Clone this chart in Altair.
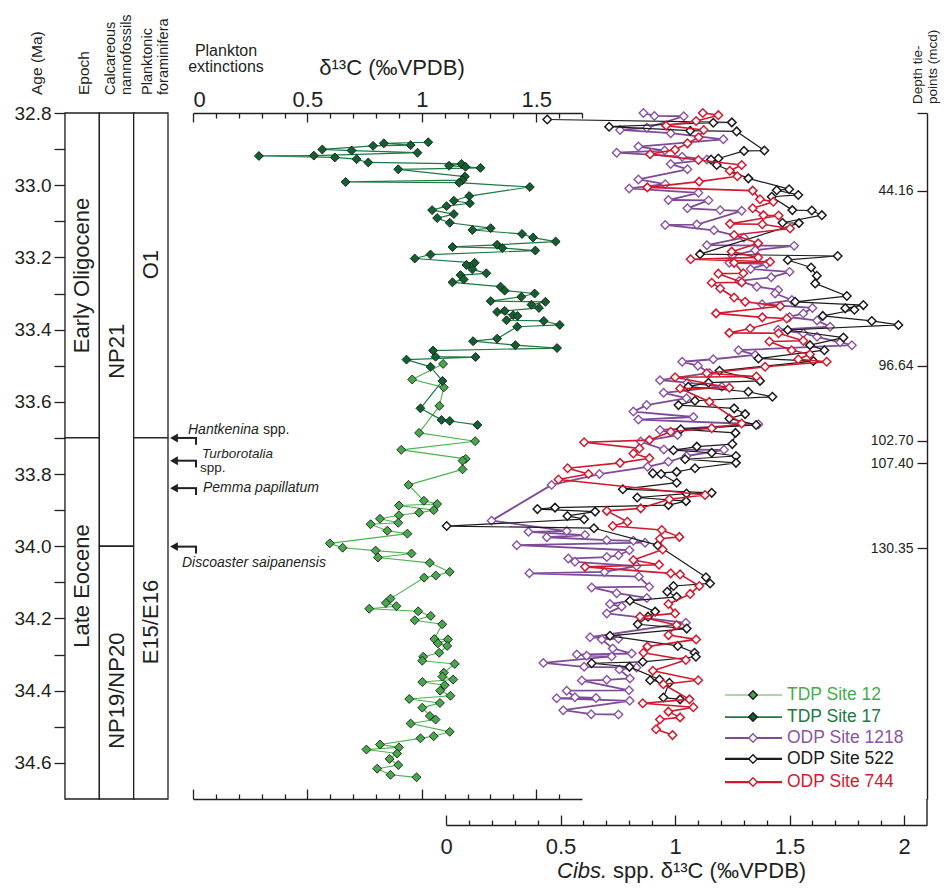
import altair as alt
import pandas as pd

FONT = "Liberation Sans"
INK = "#231f20"

# ---------------- data (age Ma, d13C permil) ----------------
tdp17 = [(32.881, 1.028), (32.884, 0.834), (32.889, 0.951), (32.891, 0.787), (32.901, 0.565),
         (32.904, 0.693), (32.910, 0.981), (32.918, 0.528), (32.919, 0.288), (32.923, 0.620),
         (32.928, 0.715), (32.937, 0.766), (32.941, 1.173), (32.946, 1.119), (32.949, 1.191),
         (32.952, 1.256), (32.956, 0.897), (32.976, 1.188), (32.986, 1.178), (32.991, 0.667),
         (32.993, 1.163), (33.005, 1.472), (33.030, 1.207), (33.043, 1.140), (33.050, 1.210),
         (33.058, 1.108), (33.069, 1.045), (33.080, 1.140), (33.091, 1.067), (33.104, 1.122),
         (33.119, 1.301), (33.124, 1.221), (33.135, 1.438), (33.145, 1.486), (33.156, 1.585),
         (33.165, 1.329), (33.171, 1.134), (33.174, 1.352), (33.181, 1.496), (33.192, 1.038),
         (33.203, 0.969), (33.215, 1.231), (33.221, 1.195), (33.233, 1.221), (33.244, 1.282),
         (33.249, 1.169), (33.261, 1.183), (33.269, 1.134), (33.281, 1.344), (33.292, 1.362),
         (33.300, 1.493), (33.309, 1.435), (33.321, 1.301), (33.323, 1.540), (33.331, 1.479),
         (33.340, 1.512), (33.348, 1.362), (33.351, 1.329), (33.360, 1.399), (33.362, 1.418),
         (33.374, 1.370), (33.376, 1.533), (33.387, 1.603), (33.392, 1.417), (33.425, 1.329),
         (33.432, 1.224), (33.443, 1.409), (33.451, 1.591), (33.458, 1.049), (33.475, 1.060),
         (33.476, 1.235), (33.483, 0.933), (33.503, 1.038), (33.542, 1.090), (33.618, 0.994),
         (33.650, 1.086), (33.653, 1.122), (33.664, 1.243)]

tdp12 = [(33.495, 1.093), (33.538, 0.958), (33.560, 1.096), (33.611, 1.077), (33.686, 0.988),
         (33.709, 1.233), (33.733, 0.910), (33.758, 1.192), (33.763, 1.178), (33.787, 1.178),
         (33.830, 0.942), (33.874, 1.009), (33.883, 1.067), (33.887, 0.900), (33.900, 1.052),
         (33.907, 0.988), (33.914, 0.900), (33.924, 0.817), (33.935, 0.897), (33.939, 0.776),
         (33.957, 0.849), (33.965, 0.937), (33.992, 0.598), (34.004, 0.654), (34.012, 0.798),
         (34.020, 0.955), (34.031, 0.808), (34.046, 1.035), (34.071, 1.122), (34.081, 1.061),
         (34.087, 1.010), (34.145, 0.863), (34.157, 0.843), (34.166, 0.889), (34.173, 0.770),
         (34.180, 0.984), (34.193, 1.039), (34.205, 0.969), (34.216, 1.089), (34.257, 1.055),
         (34.258, 1.114), (34.269, 1.070), (34.276, 1.111), (34.295, 1.076), (34.306, 1.006),
         (34.317, 1.002), (34.326, 1.144), (34.350, 1.096), (34.361, 1.090), (34.369, 1.137),
         (34.376, 1.002), (34.385, 1.100), (34.400, 1.080), (34.414, 1.125), (34.423, 0.945),
         (34.434, 1.079), (34.447, 1.002), (34.470, 1.035), (34.480, 1.060), (34.491, 0.951),
         (34.514, 1.122), (34.526, 1.052), (34.532, 0.994), (34.549, 0.817), (34.557, 0.900),
         (34.563, 0.758), (34.574, 0.892), (34.589, 0.859), (34.606, 0.897), (34.616, 0.805),
         (34.633, 0.863), (34.640, 0.977)]

odp1218 = [(32.800, 0.862), (32.808, 0.910), (32.809, 1.038), (32.841, 0.877), (32.847, 0.760),
           (32.856, 0.981), (32.873, 1.211), (32.893, 0.840), (32.904, 0.955), (32.910, 0.745),
           (32.921, 1.031), (32.929, 1.139), (32.941, 0.981), (32.956, 1.054), (32.984, 0.840),
           (32.997, 0.957), (33.009, 0.800), (33.021, 1.102), (33.041, 0.971), (33.042, 1.146),
           (33.064, 1.054), (33.069, 1.197), (33.071, 1.291), (33.109, 1.095), (33.110, 0.957),
           (33.125, 1.170), (33.145, 1.300), (33.166, 1.139), (33.168, 1.520), (33.180, 1.350),
           (33.195, 1.250), (33.215, 1.237), (33.218, 1.400), (33.232, 1.330), (33.240, 1.500),
           (33.255, 1.420), (33.265, 1.280), (33.281, 1.357), (33.290, 1.450), (33.300, 1.437),
           (33.318, 1.510), (33.330, 1.380), (33.340, 1.600), (33.355, 1.560), (33.365, 1.500),
           (33.375, 1.620), (33.392, 1.677), (33.400, 1.450), (33.410, 1.560), (33.420, 1.620),
           (33.435, 1.721), (33.443, 1.772), (33.457, 1.277), (33.470, 1.350), (33.482, 1.167),
           (33.489, 1.031), (33.500, 1.100), (33.520, 1.150), (33.540, 0.934), (33.547, 1.054),
           (33.558, 1.204), (33.575, 0.950), (33.590, 1.050), (33.609, 0.876), (33.627, 0.818),
           (33.642, 1.080), (33.649, 0.840), (33.662, 1.364), (33.678, 0.934), (33.692, 1.011),
           (33.710, 0.850), (33.732, 0.951), (33.733, 1.214), (33.750, 1.050), (33.766, 0.971),
           (33.780, 0.880), (33.800, 0.670), (33.830, 0.461), (33.929, 0.199), (33.958, 0.527),
           (33.960, 0.360), (33.969, 0.607), (33.975, 0.440), (33.983, 0.702), (33.985, 0.818),
           (33.990, 0.869), (33.997, 0.309), (34.011, 0.801), (34.025, 0.753), (34.030, 0.702),
           (34.034, 0.534), (34.043, 0.563), (34.055, 0.832), (34.071, 0.692), (34.075, 0.364),
           (34.084, 0.842), (34.112, 0.887), (34.114, 0.636), (34.130, 0.745), (34.143, 0.877),
           (34.160, 0.716), (34.167, 0.767), (34.186, 0.702), (34.212, 1.047), (34.252, 0.629),
           (34.256, 0.753), (34.258, 0.680), (34.283, 0.728), (34.297, 0.811), (34.300, 0.571),
           (34.303, 0.614), (34.305, 0.723), (34.323, 0.425), (34.334, 0.603), (34.336, 0.832),
           (34.341, 0.757), (34.366, 0.803), (34.370, 0.702), (34.372, 0.593), (34.399, 0.799),
           (34.400, 0.527), (34.418, 0.563), (34.420, 0.655), (34.421, 0.483), (34.428, 0.802),
           (34.454, 0.512), (34.465, 0.634), (34.466, 0.753)]

odp522 = [(32.818, 0.442), (32.826, 1.248), (32.827, 1.167), (32.838, 0.712), (32.849, 1.066),
          (32.851, 1.269), (32.904, 1.390), (32.905, 1.301), (32.926, 1.189), (32.929, 1.157),
          (32.944, 1.182), (32.981, 1.320), (33.011, 1.498), (33.014, 1.444), (33.027, 1.538),
          (33.032, 1.422), (33.069, 1.512), (33.070, 1.597), (33.083, 1.641), (33.104, 1.469),
          (33.105, 1.541), (33.191, 1.109), (33.196, 1.710), (33.207, 1.492), (33.228, 1.594),
          (33.251, 1.619), (33.272, 1.612), (33.307, 1.750), (33.323, 1.524), (33.332, 1.822),
          (33.341, 1.743), (33.345, 1.783), (33.362, 1.645), (33.376, 1.859), (33.387, 1.975),
          (33.401, 1.492), (33.422, 1.735), (33.443, 1.589), (33.457, 1.652), (33.480, 1.364),
          (33.487, 1.604), (33.514, 1.194), (33.542, 1.371), (33.547, 1.146), (33.558, 1.058),
          (33.572, 1.320), (33.586, 1.425), (33.597, 1.087), (33.609, 1.015), (33.618, 1.258),
          (33.634, 1.306), (33.646, 1.237), (33.664, 1.354), (33.676, 1.025), (33.686, 1.264),
          (33.717, 1.250), (33.724, 1.095), (33.734, 0.993), (33.741, 1.160), (33.750, 1.266),
          (33.759, 1.044), (33.769, 1.266), (33.784, 1.087), (33.794, 1.007), (33.798, 0.903),
          (33.800, 0.939), (33.824, 1.007), (33.842, 0.772), (33.852, 1.160), (33.854, 1.050),
          (33.865, 0.835), (33.875, 1.048), (33.886, 0.971), (33.893, 0.476), (33.897, 0.399),
          (33.904, 0.651), (33.916, 0.530), (33.925, 0.603), (33.944, 0.003), (33.950, 0.646),
          (33.997, 0.924), (34.086, 1.135), (34.103, 1.153), (34.110, 0.993), (34.126, 0.966),
          (34.140, 1.007), (34.151, 0.803), (34.181, 0.913), (34.195, 0.882), (34.216, 0.837),
          (34.228, 1.051), (34.248, 0.716), (34.276, 1.012), (34.295, 1.085), (34.306, 1.091),
          (34.320, 0.859), (34.324, 0.636), (34.334, 0.801), (34.369, 0.932), (34.371, 0.891),
          (34.378, 0.975), (34.419, 0.949), (34.424, 1.022)]

odp744 = [(32.800, 1.121), (32.806, 1.189), (32.822, 1.092), (32.835, 0.961), (32.847, 1.125),
          (32.867, 1.103), (32.884, 1.054), (32.902, 1.000), (32.914, 0.891), (32.930, 1.102),
          (32.944, 1.291), (32.960, 1.239), (32.975, 1.272), (32.990, 1.105), (33.006, 0.879),
          (33.015, 1.339), (33.039, 1.371), (33.046, 1.429), (33.064, 1.339), (33.083, 1.386),
          (33.084, 1.452), (33.107, 1.240), (33.108, 1.381), (33.120, 1.502), (33.138, 1.258),
          (33.161, 1.363), (33.184, 1.247), (33.200, 1.363), (33.205, 1.068), (33.212, 1.415),
          (33.215, 1.258), (33.244, 1.298), (33.245, 1.189), (33.269, 1.291), (33.270, 1.160),
          (33.286, 1.197), (33.311, 1.258), (33.323, 1.306), (33.335, 1.459), (33.355, 1.179),
          (33.366, 1.381), (33.369, 1.488), (33.397, 1.328), (33.409, 1.237), (33.410, 1.452),
          (33.431, 1.560), (33.433, 1.412), (33.457, 1.509), (33.468, 1.589), (33.482, 1.538),
          (33.489, 1.662), (33.503, 1.393), (33.521, 1.138), (33.530, 1.355), (33.532, 1.000),
          (33.561, 1.237), (33.563, 1.022), (33.600, 1.150), (33.660, 1.291), (33.673, 1.160),
          (33.683, 0.981), (33.706, 0.888), (33.712, 0.603), (33.729, 0.844), (33.743, 0.818),
          (33.756, 0.888), (33.769, 0.760), (33.784, 0.531), (33.800, 0.622), (33.815, 0.491),
          (33.858, 1.131), (33.870, 0.975), (33.895, 0.850), (33.902, 0.702), (33.932, 0.792),
          (33.944, 0.728), (33.955, 0.942), (33.974, 1.019), (33.979, 0.934), (34.009, 0.946),
          (34.038, 0.818), (34.051, 0.930), (34.057, 0.607), (34.075, 0.981), (34.078, 1.022),
          (34.110, 1.106), (34.132, 1.066), (34.160, 0.971), (34.186, 1.000), (34.195, 0.847),
          (34.218, 1.007), (34.246, 0.971), (34.258, 1.092), (34.278, 0.879), (34.295, 0.862),
          (34.315, 1.047), (34.345, 0.903), (34.371, 1.101), (34.382, 0.949), (34.424, 1.063),
          (34.435, 0.859), (34.446, 1.080), (34.458, 0.971), (34.474, 1.022), (34.480, 0.934),
          (34.507, 0.917), (34.523, 0.989)]

# stratigraphic columns (0 epoch, 1 nannofossils, 2 forams)
strat_col = [0, 0, 1, 1, 2, 2]
strat_top = [32.8, 33.7, 32.8, 34.0, 32.8, 33.7]
strat_bot = [33.7, 34.7, 34.0, 34.7, 33.7, 34.7]
strat_label = ["Early Oligocene", "Late Eocene", "NP21", "NP19/NP20", "O1", "E15/E16"]
strat_label_age = [33.25, 34.11, 33.46, 34.40, 33.22, 34.21]

# plankton extinction datums
ext_age = [33.700, 33.763, 33.839, 34.001]

# depth tie-points
tie_age = [33.015, 33.500, 33.708, 33.770, 34.005]
tie_label = ["44.16", "96.64", "102.70", "107.40", "130.35"]

# legend
leg_name = ["TDP Site 12", "TDP Site 17", "ODP Site 1218", "ODP Site 522", "ODP Site 744"]
leg_line = ["#4cb350", "#1c7a43", "#7d4b97", "#1a1a1a", "#d2192f"]
leg_fill = ["#47a84b", "#11602f", "#ffffff", "#ffffff", "#ffffff"]
leg_pstroke = ["#1a1a1a", "#1a1a1a", "#8a52a6", "#1a1a1a", "#d2192f"]
leg_text = ["#45ad4b", "#1b7a44", "#8a55a1", "#1a1a1a", "#d2192f"]
leg_lw = [1.2, 1.8, 2.2, 2.2, 2.2]
leg_age = [34.412, 34.473, 34.531, 34.589, 34.653]

# ---------------- scales ----------------
W, H = 863, 686
ysc = alt.Scale(domain=[32.8, 34.7], reverse=True, nice=False, zero=False)
plank_sc = alt.Scale(domain=[0, 1.7], range=[128, 517], nice=False, zero=False)
benth_sc = alt.Scale(domain=[0, 2.1], range=[381, 862], nice=False, zero=False)
strat_sc = alt.Scale(domain=[0, 3], range=[0, 103], nice=False, zero=False)

one = pd.DataFrame({"k": [0]})
layers = []

# ---------------- stratigraphic columns ----------------
strat_df = pd.DataFrame({
    "c0": strat_col, "c1": [c + 1 for c in strat_col], "cm": [c + 0.5 for c in strat_col],
    "top": strat_top, "bot": strat_bot, "label": strat_label, "lage": strat_label_age})
layers.append(alt.Chart(strat_df).mark_rect(fill="white", stroke=INK, strokeWidth=1.3).encode(
    x=alt.X("c0:Q", scale=strat_sc, axis=None), x2="c1:Q",
    y=alt.Y("top:Q", scale=ysc, axis=None), y2="bot:Q"))
layers.append(alt.Chart(strat_df).mark_text(angle=270, fontSize=22, font=FONT, color=INK,
                                            align="center", baseline="middle").encode(
    x=alt.X("cm:Q", scale=strat_sc, axis=None),
    y=alt.Y("lage:Q", scale=ysc, axis=None), text="label:N"))


def txt(text, x, y, size, angle=0, align="center", baseline="middle", italic=False, lh=None, color=INK):
    kw = dict(text=text, fontSize=size, angle=angle, align=align, baseline=baseline,
              color=color, font=FONT)
    if italic:
        kw["fontStyle"] = "italic"
    if lh:
        kw["lineHeight"] = lh
    return alt.Chart(one).mark_text(**kw).encode(x=alt.value(x), y=alt.value(y))


# headers
layers += [
    txt("Age (Ma)", -28, -18, 15.5, angle=270, align="left"),
    txt("Epoch", 19, -18, 15.5, angle=270, align="left"),
    txt(["Calcareous", "nannofossils"], 46, -18, 14.5, angle=270, align="left", lh=16),
    txt(["Planktonic", "foraminifera"], 83, -18, 14.5, angle=270, align="left", lh=16),
    txt(["Plankton", "extinctions"], 161, -62, 16, lh=16),
    txt("δ¹³C (‰VPDB)", 327, -45, 22),
    txt(["Depth tie-", "points (mcd)"], 853, -9, 13.5, angle=270, align="left", lh=15),
    txt("Cibs.", 492, 758, 22, align="left", italic=True),
    txt("spp. δ¹³C (‰VPDB)", 548, 758, 22, align="left"),
]

# ---------------- extinction arrows ----------------
ext_df = pd.DataFrame({"age": ext_age})
ya = alt.Y("age:Q", scale=ysc, axis=None)
layers.append(alt.Chart(ext_df).mark_rule(color=INK, strokeWidth=2).encode(
    x=alt.value(108), x2=alt.value(132), y=ya))
layers.append(alt.Chart(ext_df).transform_calculate(hook="datum.age + 0.019").mark_rule(
    color=INK, strokeWidth=2).encode(x=alt.value(131), y=ya, y2="hook:Q"))
layers.append(alt.Chart(ext_df).mark_point(shape="triangle-left", filled=True, size=80,
                                           color=INK, opacity=1).encode(x=alt.value(109), y=ya))


def ext_text(text, age, x, dy, italic=True, size=14):
    d = pd.DataFrame({"age": [age]})
    kw = dict(text=text, fontSize=size, align="left", baseline="middle", color=INK, font=FONT, dy=dy)
    if italic:
        kw["fontStyle"] = "italic"
    return alt.Chart(d).mark_text(**kw).encode(x=alt.value(x), y=alt.Y("age:Q", scale=ysc, axis=None))


layers += [
    ext_text("Hantkenina", ext_age[0], 123, -8),
    ext_text("spp.", ext_age[0], 198, -8, italic=False),
    ext_text("Turborotalia", ext_age[1], 137, -7, size=13.5),
    ext_text("spp.", ext_age[1], 135, 7, italic=False, size=13.5),
    ext_text("Pemma papillatum", ext_age[2], 138, 0),
    ext_text("Discoaster saipanensis", ext_age[3], 117, 16),
]


# ---------------- data series ----------------
def series(pairs, xsc, line_color, lw, fill, pstroke, psw, size):
    df = pd.DataFrame(pairs, columns=["age", "val"])
    x = alt.X("val:Q", scale=xsc, axis=None)
    y = alt.Y("age:Q", scale=ysc, axis=None)
    line = alt.Chart(df).mark_line(color=line_color, strokeWidth=lw, strokeJoin="round").encode(
        x=x, y=y, order=alt.Order("age:Q"))
    pts = alt.Chart(df).mark_point(shape="diamond", filled=True, fill=fill, stroke=pstroke,
                                   strokeWidth=psw, size=size, opacity=1).encode(x=x, y=y)
    return [line, pts]


layers += series(tdp12, plank_sc, leg_line[0], 1.1, leg_fill[0], "#1a1a1a", 0.9, 80)
layers += series(tdp17, plank_sc, leg_line[1], 1.2, leg_fill[1], "#1a1a1a", 0.9, 80)
layers += series(odp1218, benth_sc, leg_line[2], 1.8, "white", leg_pstroke[2], 1.4, 72)
layers += series(odp522, benth_sc, leg_line[3], 1.2, "white", leg_pstroke[3], 1.5, 72)
layers += series(odp744, benth_sc, leg_line[4], 1.6, "white", leg_pstroke[4], 1.5, 72)

# ---------------- axes (carried by invisible layers) ----------------
carrier_df = pd.DataFrame({"v": [0.0, 1.0], "age": [33.0, 34.0]})


def carrier(xsc, xaxis, yaxis=None):
    return alt.Chart(carrier_df).mark_point(opacity=0).encode(
        x=alt.X("v:Q", scale=xsc, axis=xaxis),
        y=alt.Y("age:Q", scale=ysc, axis=yaxis))


MAJOR = "abs(datum.value * 2 - round(datum.value * 2)) < 0.001"


def tick_axis(orient, offset, values, major, minor):
    return alt.Axis(orient=orient, offset=offset, values=values, labels=False, title=None,
                    grid=False, domain=True, ticks=True, domainColor=INK, tickColor=INK,
                    domainWidth=1.4, tickWidth=1.3,
                    tickSize={"condition": {"test": MAJOR, "value": major}, "value": minor})


plank_top_ticks = [round(0.1 * i, 1) for i in range(18)]
plank_bot_ticks = [round(0.1 * i, 1) for i in range(17)]
benth_ticks = [round(0.1 * i, 1) for i in range(21)]
age_ticks = [round(32.8 + 0.1 * i, 1) for i in range(19)]

label_expr_tie = "''"
for a, l in reversed(list(zip(tie_age, tie_label))):
    label_expr_tie = f"abs(datum.value - {a}) < 0.001 ? '{l}' : ({label_expr_tie})"

layers += [
    carrier(plank_sc, alt.Axis(orient="top", values=[0, 0.5, 1, 1.5], format="~g", domain=False,
                               ticks=False, tickSize=0, labelPadding=2, labelFontSize=22,
                               labelFlush=True, title=None, grid=False)),
    carrier(plank_sc, tick_axis("bottom", -H, plank_top_ticks, 9, 5)),
    carrier(plank_sc, tick_axis("top", -H, plank_bot_ticks, 10, 5)),
    carrier(benth_sc, tick_axis("top", -(H + 26), benth_ticks, 10, 5)),
    carrier(benth_sc, alt.Axis(orient="bottom", offset=26, values=[0, 0.5, 1, 1.5, 2], format="~g",
                               domain=False, ticks=False, tickSize=0, labelPadding=11,
                               labelFontSize=22, labelFlush=False, title=None, grid=False)),
    carrier(strat_sc, None, alt.Axis(orient="left", values=age_ticks, title=None, grid=False,
                                     labelExpr="(round(datum.value*10) % 2 == 0) ? format(datum.value, '.1f') : ''",
                                     tickSize=11, labelPadding=3, labelFontSize=19,
                                     labelOverlap=False, domain=True, domainColor=INK,
                                     tickColor=INK, domainWidth=1.3, tickWidth=1.3)),
    carrier(strat_sc, None, alt.Axis(orient="left", offset=-862, values=[32.8] + tie_age, title=None,
                                     grid=False, labelExpr=label_expr_tie, tickSize=10,
                                     labelPadding=4, labelFontSize=14, labelOverlap=False,
                                     domain=True, domainColor=INK, tickColor=INK,
                                     domainWidth=1.4, tickWidth=1.3)),
]
# link of the right axis down to the Cibs. axis
layers.append(alt.Chart(one).mark_rule(color=INK, strokeWidth=1.4).encode(
    x=alt.value(862), y=alt.value(H), y2=alt.value(H + 26)))

# ---------------- legend ----------------
leg_df = pd.DataFrame({"name": leg_name, "line": leg_line, "fill": leg_fill,
                       "pstroke": leg_pstroke, "tcol": leg_text, "lw": leg_lw, "age": leg_age})
ly = alt.Y("age:Q", scale=ysc, axis=None)
layers.append(alt.Chart(leg_df).mark_rule().encode(
    x=alt.value(660), x2=alt.value(717), y=ly,
    color=alt.Color("line:N", scale=None), strokeWidth=alt.StrokeWidth("lw:Q", scale=None)))
layers.append(alt.Chart(leg_df).mark_point(shape="diamond", filled=True, size=72, strokeWidth=1.4,
                                           opacity=1).encode(
    x=alt.value(688), y=ly, fill=alt.Fill("fill:N", scale=None),
    stroke=alt.Stroke("pstroke:N", scale=None)))
layers.append(alt.Chart(leg_df).mark_text(align="left", baseline="middle", fontSize=17.5,
                                          font=FONT).encode(
    x=alt.value(722), y=ly, text="name:N", color=alt.Color("tcol:N", scale=None)))

chart = alt.layer(*layers).resolve_scale(x="independent").resolve_axis(y="independent").properties(
    width=W, height=H,
    autosize=alt.AutoSizeParams(type="none"),
    padding={"left": 57, "top": 105, "right": 14, "bottom": 86},
).configure_view(strokeWidth=0).configure_axis(labelFont=FONT, labelColor=INK)

chart.save("out.html", embed_options={"renderer": "svg", "actions": False})
